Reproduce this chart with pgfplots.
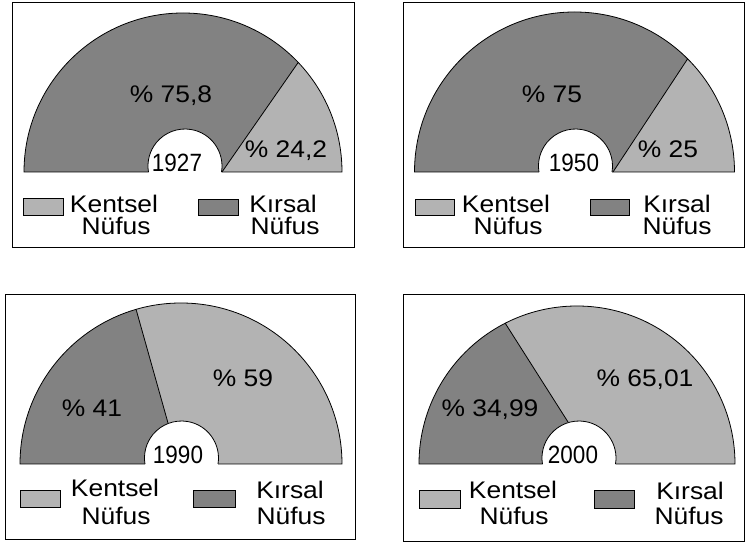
\documentclass[border=0pt]{standalone}
\usepackage{fontspec}
\setmainfont{Liberation Sans}[FakeStretch=1.1]
\newfontfamily\yearfont{Liberation Sans}[FakeStretch=0.9]
\usepackage{pgfplots}
\pgfplotsset{compat=1.18}
\definecolor{light}{HTML}{B3B3B3}
\definecolor{dark}{HTML}{828282}
\tikzset{lbl/.style={font=\fontsize{24}{26}\selectfont,inner sep=0pt,anchor=base},
  yr/.style={font=\yearfont\fontsize{25}{27}\selectfont,inner sep=0pt,anchor=base}}
% #1 cx, #2 baseline y, #3 radius, #4 Kentsel percent, #5 hole cx, #6,#7 inner end of the dividing line
\newcommand{\halfpie}[7]{%
  \fill[light] (axis cs:#1,#2) ++({1.8*#4}:#3pt) arc[start angle={1.8*#4},end angle=0,radius=#3pt] -- (axis cs:#1,#2) -- (axis cs:#6,#7) -- cycle;
  \fill[dark] (axis cs:#1,#2) ++({1.8*#4}:#3pt) arc[start angle={1.8*#4},end angle=180,radius=#3pt] -- (axis cs:#1,#2) -- (axis cs:#6,#7) -- cycle;
  \fill[white] (axis cs:#5+36.5,#2) arc[start angle=-9.3,end angle=189.3,radius=37pt] -- cycle;
  \draw[line width=0.8pt] (axis cs:#5+36.5,#2) arc[start angle=-9.3,end angle=189.3,radius=37pt];
  \draw[line width=0.8pt] (axis cs:#5-36.5,#2) -- (axis cs:#1-#3,#2) arc[start angle=180,end angle=0,radius=#3pt] -- (axis cs:#5+36.5,#2);
  \draw[line width=0.8pt] (axis cs:#1,#2) ++({1.8*#4}:#3pt) -- (axis cs:#6,#7);
}
\begin{document}
\begin{tikzpicture}
\begin{axis}[x=1pt,y=1pt,xmin=0,xmax=745,ymin=0,ymax=545,hide axis,clip=false]
% ---------- Panel 1927 ----------
\draw[line width=1pt] (axis cs:12,542) rectangle (axis cs:354,297);
\halfpie{183}{373}{159}{24.2}{185}{222}{373}
\node[lbl] at (axis cs:171,442) {\% 75,8};
\node[lbl] at (axis cs:286,387) {\% 24,2};
\node[yr] at (axis cs:177,373) {1927};
\draw[fill=light,line width=0.8pt] (axis cs:23,347) rectangle (axis cs:63,330);
\draw[fill=dark,line width=0.8pt] (axis cs:198,346) rectangle (axis cs:238,330);
\node[lbl] at (axis cs:114,332) {Kentsel};
\node[lbl] at (axis cs:116,310) {Nüfus};
\node[lbl] at (axis cs:283,332) {Kırsal};
\node[lbl] at (axis cs:285,310) {Nüfus};
% ---------- Panel 1950 ----------
\draw[line width=1pt] (axis cs:403,542) rectangle (axis cs:744,297);
\halfpie{574.5}{373}{160}{25}{575.5}{613}{373}
\node[lbl] at (axis cs:552,442) {\% 75};
\node[lbl] at (axis cs:668,387) {\% 25};
\node[yr] at (axis cs:574,373) {1950};
\draw[fill=light,line width=0.8pt] (axis cs:415,346) rectangle (axis cs:454,330);
\draw[fill=dark,line width=0.8pt] (axis cs:590,346) rectangle (axis cs:629,330);
\node[lbl] at (axis cs:506,332) {Kentsel};
\node[lbl] at (axis cs:508,310) {Nüfus};
\node[lbl] at (axis cs:677,332) {Kırsal};
\node[lbl] at (axis cs:677,310) {Nüfus};
% ---------- Panel 1990 ----------
\draw[line width=1pt] (axis cs:5,250) rectangle (axis cs:355,5);
\halfpie{181}{81}{161}{59}{181.5}{168}{122}
\node[lbl] at (axis cs:92,128) {\% 41};
\node[lbl] at (axis cs:243,158) {\% 59};
\node[yr] at (axis cs:178,81) {1990};
\draw[fill=light,line width=0.8pt] (axis cs:20,55) rectangle (axis cs:60,38);
\draw[fill=dark,line width=0.8pt] (axis cs:193,55) rectangle (axis cs:235,38);
\node[lbl] at (axis cs:115,48) {Kentsel};
\node[lbl] at (axis cs:116,20) {Nüfus};
\node[lbl] at (axis cs:290,46) {Kırsal};
\node[lbl] at (axis cs:291,20) {Nüfus};
% ---------- Panel 2000 ----------
\draw[line width=1pt] (axis cs:403,250) rectangle (axis cs:744,3);
\halfpie{577}{81}{158}{65.01}{579}{568}{123}
\node[lbl] at (axis cs:490,128) {\% 34,99};
\node[lbl] at (axis cs:645,158) {\% 65,01};
\node[yr] at (axis cs:573,81) {2000};
\draw[fill=light,line width=0.8pt] (axis cs:419,55) rectangle (axis cs:460,37);
\draw[fill=dark,line width=0.8pt] (axis cs:594,55) rectangle (axis cs:634,37);
\node[lbl] at (axis cs:513,46) {Kentsel};
\node[lbl] at (axis cs:514,20) {Nüfus};
\node[lbl] at (axis cs:690,45) {Kırsal};
\node[lbl] at (axis cs:689,20) {Nüfus};
\end{axis}
\pgfresetboundingbox
\path (current axis.south west) rectangle (current axis.north east);
\end{tikzpicture}
\end{document}
